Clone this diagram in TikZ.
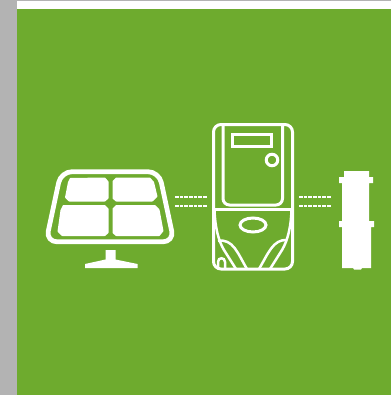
\documentclass[tikz,border=0pt]{standalone}
\usepackage{xcolor}
\usepackage{tikz}
\definecolor{panelgreen}{RGB}{110, 171, 46}
\definecolor{sidegray}{RGB}{179, 179, 179}

\begin{document}
\begin{tikzpicture}[x=0.02cm, y=-0.02cm,
  frameline/.style={draw=white, line width=0.095cm},
  thickline/.style={draw=white, line width=0.06cm},
  thinline/.style={draw=white, line width=0.05cm},
  cell/.style={fill=white, rounded corners=0.008cm},
  wire/.style={draw=white, line width=0.058cm, dash pattern=on 0.075cm off 0.018cm}
]
\useasboundingbox (0, 0) rectangle (391, 395);

% Background
\fill[sidegray] (0, 0) rectangle (391, 395);
\fill[white] (17, 1) rectangle (391, 9);
\fill[panelgreen] (17, 9) rectangle (391, 395);

% Solar panel
\draw[frameline, rounded corners=0.22cm] (61, 171.7) -- (159, 171.7) -- (174, 241.8) -- (46, 241.8) -- cycle;
\fill[cell] (70, 178) -- (105, 177.5) -- (108.5, 181.5) -- (108.5, 198.5) -- (105, 201.5) -- (69, 201.5) -- (65, 197.5) -- (68, 182) -- cycle;
\fill[cell] (63, 205) -- (105, 205) -- (108.5, 208.5) -- (108.5, 233) -- (105, 236) -- (62, 236) -- (57.5, 231.5) -- (60.5, 210) -- cycle;
\fill[cell] (116, 177.5) -- (150, 177.5) -- (154, 182) -- (157.5, 196.5) -- (152.5, 201.5) -- (116, 201.5) -- (112.5, 198.5) -- (112.5, 181) -- cycle;
\fill[cell] (116, 205) -- (155, 205) -- (159.5, 209.5) -- (163.5, 231) -- (159.5, 236) -- (116, 236) -- (112.5, 233) -- (112.5, 208.5) -- cycle;
\fill[white] (105.5, 250) -- (115.5, 250) -- (115.5, 259.5) -- (137.5, 264) -- (137.5, 268) -- (85, 268) -- (85, 264) -- (105.5, 259.5) -- cycle;

% Wires
\coordinate (panelA) at (175, 197);
\coordinate (panelB) at (175, 206);
\coordinate (meterinA) at (207, 197);
\coordinate (meterinB) at (207, 206);
\coordinate (meteroutA) at (299, 197);
\coordinate (meteroutB) at (299, 206);
\coordinate (fuseA) at (331, 197);
\coordinate (fuseB) at (331, 206);
\draw[wire] (panelA) -- (meterinA);
\draw[wire] (panelB) -- (meterinB);
\draw[wire] (meteroutA) -- (fuseA);
\draw[wire] (meteroutB) -- (fuseB);

% Meter
\draw[thickline, rounded corners=0.15cm] (213.5, 124.5) rectangle (292.5, 269);
\draw[thickline, rounded corners=0.13cm] (223, 124.5) -- (223, 205) -- (282.5, 205) -- (282.5, 124.5);
\draw[thickline] (232.5, 134) rectangle (271, 146.5);
\draw[thickline] (272, 160) circle [radius=0.115cm];
\draw[thickline] (213.5, 209) -- (292.5, 209);
\draw[thickline] (253, 225) ellipse [x radius=0.26cm, y radius=0.14cm];
\draw[thinline] (214.5, 210) .. controls (215, 226) and (218, 240) .. (224, 250) -- (236, 269);
\draw[thinline] (291.5, 210) .. controls (291, 226) and (288, 240) .. (282, 250) -- (270, 269);
\draw[thinline] (218, 241) .. controls (233, 238) and (238, 254) .. (247, 269);
\draw[thinline] (287, 240) .. controls (273, 239) and (268, 254) .. (259, 269);
\draw[thinline] (218, 269) -- (218, 262) .. controls (218, 257) and (225, 257) .. (225, 262) -- (225, 269);

% Fuse
\fill[white] (344, 171) -- (369, 171) -- (369, 177) -- (373, 177) -- (373, 183) -- (369, 183) -- (369, 221) -- (374, 221) -- (374, 227) -- (371, 227) -- (371, 268) -- (362, 268) -- (361, 269.5) -- (354, 269.5) -- (353, 268) -- (342, 268) -- (342, 227) -- (339, 227) -- (339, 221) -- (342, 221) -- (342, 183) -- (339, 183) -- (339, 177) -- (344, 177) -- cycle;

\end{tikzpicture}
\end{document}
